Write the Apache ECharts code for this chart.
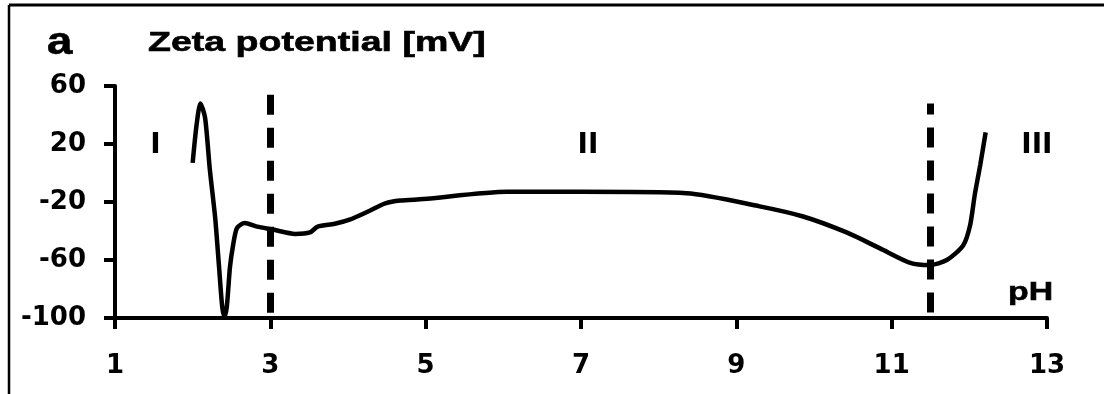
<!DOCTYPE html>
<html>
<head>
<meta charset="utf-8">
<script src="https://cdn.jsdelivr.net/npm/echarts@6/dist/echarts.min.js"></script>
<style>
  html, body { margin: 0; padding: 0; background: #fff; }
  #chart { width: 1104px; height: 394px; }
</style>
</head>
<body>
<div id="chart"></div>
<script>
// zeta potential vs pH
const ph = [2.00, 2.05, 2.10, 2.16, 2.22, 2.29, 2.34, 2.38, 2.41, 2.44, 2.48, 2.52, 2.57, 2.67, 2.83, 3.03, 3.32, 3.51, 3.61, 3.83, 4.03, 4.28, 4.48, 4.67, 4.97, 6.05, 6.99, 8.36, 9.30, 9.86, 10.42, 10.85, 11.24, 11.49, 11.71, 11.92, 12.01, 12.07, 12.14, 12.21];
const zeta = [7, 33, 48, 38, 3, -31, -65, -92, -99, -92, -65, -50, -38, -34.5, -37, -39, -42, -41, -37, -35, -32, -26, -21, -19, -18, -13, -13, -14, -23, -30, -41, -52, -62, -63.5, -60, -50, -36, -15, 5.5, 28];

// region boundaries (dashed lines) and where their dashes start at the top
const boundaries = [3, 11.5];
const boundaryTops = [54, 48];
const dashOffsets = [0, 9];

// region labels
const regionNames = ['I', 'II', 'III'];
const regionX = [1.52, 7.09, 12.87];
const regionY = [19, 19, 19];

const xTicks = [1, 13, 2];        // min, max, interval
const yTicks = [-100, 60, 40];

const chart = echarts.init(document.getElementById('chart'));

const labelFont = 'DejaVu Sans';
const axisCommon = {
  axisLine: { onZero: false, lineStyle: { color: '#000', width: 4 } },
  axisTick: { length: 11, lineStyle: { color: '#000', width: 4 } },
  splitLine: { show: false },
  axisLabel: { color: '#000', fontFamily: labelFont, fontWeight: 'bold', fontSize: 26 }
};

const option = {
  animation: false,
  grid: { left: 115, right: 57, top: 86, bottom: 76 },
  xAxis: {
    type: 'value',
    min: xTicks[0], max: xTicks[1], interval: xTicks[2],
    ...axisCommon,
    axisLabel: { ...axisCommon.axisLabel, margin: 35 }
  },
  yAxis: {
    type: 'value',
    min: yTicks[0], max: yTicks[1], interval: yTicks[2],
    ...axisCommon,
    axisLabel: { ...axisCommon.axisLabel, margin: 29 }
  },
  series: [
    {
      type: 'line',
      data: ph.map((x, i) => [x, zeta[i]]),
      smooth: 0.25,
      showSymbol: false,
      lineStyle: { color: '#000', width: 4.5 },
      markLine: {
        silent: true,
        symbol: 'none',
        label: { show: false },
        // drawn top-down so the dash pattern starts at the top like the original
        data: boundaries.map((b, i) => [
          { coord: [b, boundaryTops[i]], lineStyle: { color: '#000', width: 7, type: [20, 13], dashOffset: dashOffsets[i] } },
          { coord: [b, yTicks[0]] }
        ])
      }
    },
    {
      type: 'scatter',
      symbolSize: 0,
      itemStyle: { opacity: 1 },
      data: regionX.map((x, i) => [x, regionY[i], regionNames[i]]),
      label: {
        show: true,
        position: 'inside',
        formatter: p => p.data[2],
        color: '#000',
        opacity: 1,
        fontFamily: labelFont,
        fontWeight: 'bold',
        fontSize: 28
      }
    }
  ],
  graphic: [
    { type: 'line', shape: { x1: 9, y1: 5, x2: 1104, y2: 5 }, style: { stroke: '#000', lineWidth: 3 } },
    { type: 'line', shape: { x1: 9, y1: 5, x2: 9, y2: 394 }, style: { stroke: '#000', lineWidth: 2.5 } },
    { type: 'text', x: 47, y: 44, scaleX: 1.2,
      style: { text: 'a', font: 'bold 38px "Liberation Sans"', fill: '#000', stroke: '#000', lineWidth: 0.6, verticalAlign: 'middle' } },
    { type: 'text', x: 148, y: 44, scaleX: 1.39,
      style: { text: 'Zeta potential [mV]', font: 'bold 27px "Liberation Sans"', fill: '#000', stroke: '#000', lineWidth: 0.6, verticalAlign: 'middle' } },
    { type: 'text', x: 1008, y: 293, scaleX: 1.3,
      style: { text: 'pH', font: 'bold 26px "Liberation Sans"', fill: '#000', stroke: '#000', lineWidth: 0.6, verticalAlign: 'middle' } }
  ]
};

chart.setOption(option);
</script>
</body>
</html>
